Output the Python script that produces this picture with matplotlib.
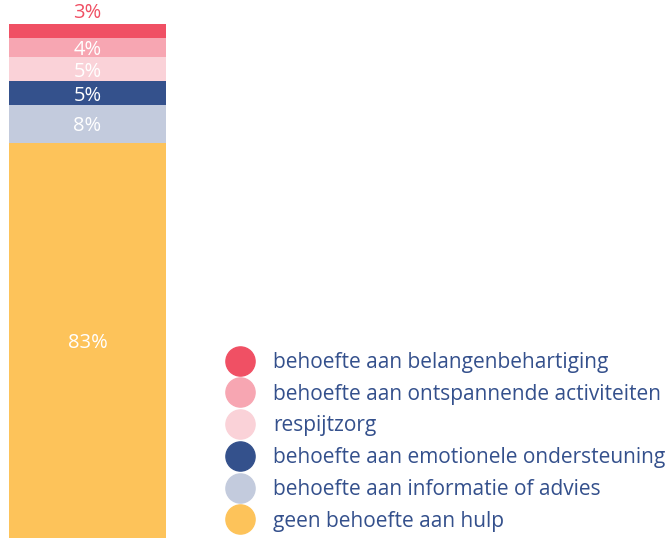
import matplotlib
matplotlib.use("Agg")
from matplotlib import pyplot as plt
from matplotlib.lines import Line2D

plt.rcParams['font.family'] = ['Open Sans', 'DejaVu Sans']

# stack order: bottom to top
categories = [
    "geen behoefte aan hulp",
    "behoefte aan informatie of advies",
    "behoefte aan emotionele ondersteuning",
    "respijtzorg",
    "behoefte aan ontspannende activiteiten",
    "behoefte aan belangenbehartiging",
]
values = [83, 8, 5, 5, 4, 3]
colors = ["#fdc35a", "#c3cbdd", "#34518c", "#fad2d8", "#f7a6b2", "#f05064"]
text_color = "#34508c"

fig = plt.figure(figsize=(6.71, 5.45), dpi=100)
W, H = 671, 545
ax = fig.add_axes([9 / W, (H - 538) / H, (166 - 9) / W, (538 - 24) / H])

bottom = 0
for cat, val, col in zip(categories, values, colors):
    ax.bar(0, val, width=1, bottom=bottom, color=col, label=cat)
    if cat == categories[-1]:
        ax.text(0, bottom + val + 0.3, f"{val}%", ha="center", va="bottom",
                color=col, fontsize=14.5, clip_on=False)
    else:
        ax.text(0, bottom + val / 2, f"{val}%", ha="center", va="center_baseline",
                color="white", fontsize=14.5)
    bottom += val

ax.set_xlim(-0.5, 0.5)
ax.set_ylim(0, 108)
ax.axis("off")

handles = [Line2D([], [], marker="o", linestyle="", markersize=21,
                  markerfacecolor=c, markeredgecolor=c) for c in colors]
leg = fig.legend(handles[::-1], categories[::-1], loc="upper left",
                 bbox_to_anchor=(227 / W, 1 - 352 / H), frameon=False,
                 fontsize=15, labelspacing=0.515, handletextpad=1.0,
                 handlelength=1.2, borderpad=0, borderaxespad=0)
for t in leg.get_texts():
    t.set_color(text_color)

fig.savefig("out.png", dpi=100)
